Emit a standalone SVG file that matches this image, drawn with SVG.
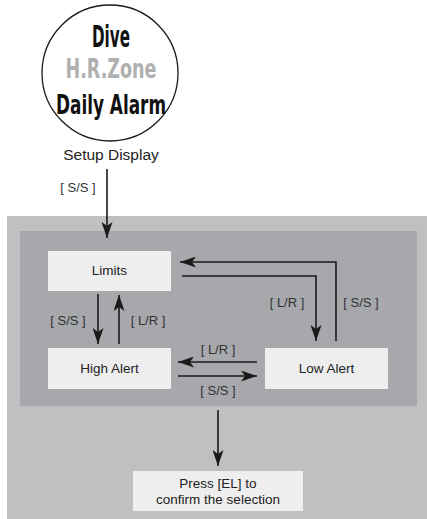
<svg xmlns="http://www.w3.org/2000/svg" width="427" height="519" viewBox="0 0 427 519">
<style>
.lbl{font-family:"Liberation Sans",Arial,sans-serif;font-size:13px;fill:#333;text-anchor:middle}
.nt{font-family:"Liberation Sans",Arial,sans-serif;font-size:13.5px;fill:#222;text-anchor:middle}
.box{fill:#eeeeee}
.ln{fill:none;stroke:#1a1a1a;stroke-width:1.6}
.dig{font-family:"DejaVu Sans Condensed","DejaVu Sans",sans-serif;font-weight:bold;text-anchor:middle}
</style>
<defs>
<marker id="ah" markerUnits="userSpaceOnUse" markerWidth="16" markerHeight="11" refX="16" refY="5.5" orient="auto">
<path d="M0,0 L16,5.5 L0,11 L4,5.5 z" fill="#1a1a1a"/>
</marker>
</defs>
<rect width="427" height="519" fill="#ffffff"/>
<g id="display">
<circle cx="110" cy="73" r="68" fill="#ffffff" stroke="#1a1a1a" stroke-width="1.3"/>
<text class="dig" x="111" y="47" font-size="30" fill="#111" textLength="38" lengthAdjust="spacingAndGlyphs">Dive</text>
<text class="dig" x="111" y="78" font-size="27" fill="#b0b0b0" textLength="91" lengthAdjust="spacingAndGlyphs">H.R.Zone</text>
<text class="dig" x="111" y="114" font-size="27" fill="#111" textLength="110" lengthAdjust="spacingAndGlyphs">Daily Alarm</text>
<text class="nt" x="111" y="160" font-size="15.5" style="font-size:15.5px">Setup Display</text>
</g>
<g id="panel">
<rect x="7" y="216" width="420" height="303" fill="#bfc0c2"/>
<rect x="20" y="231" width="397" height="175" fill="#a6a8ab"/>
</g>
<g id="limits">
<rect class="box" x="48" y="251" width="123" height="40"/>
<text class="nt" x="109.5" y="275">Limits</text>
</g>
<g id="high-alert">
<rect class="box" x="48" y="348" width="123" height="41"/>
<text class="nt" x="109.5" y="373">High Alert</text>
</g>
<g id="low-alert">
<rect class="box" x="265" y="348" width="123" height="41"/>
<text class="nt" x="326.5" y="373">Low Alert</text>
</g>
<g id="confirm">
<rect class="box" x="133" y="471" width="170" height="40"/>
<text class="nt" x="218" y="488">Press [EL] to</text>
<text class="nt" x="218" y="504">confirm the selection</text>
</g>
<g id="connectors">
<path class="ln" d="M107,169 V238" marker-end="url(#ah)"/>
<path class="ln" d="M98,294 V344" marker-end="url(#ah)"/>
<path class="ln" d="M119,344 V295" marker-end="url(#ah)"/>
<path class="ln" d="M182,276 H316 V341" marker-end="url(#ah)"/>
<path class="ln" d="M336,341 V262 H180" marker-end="url(#ah)"/>
<path class="ln" d="M257,362 H178" marker-end="url(#ah)"/>
<path class="ln" d="M178,376 H257" marker-end="url(#ah)"/>
<path class="ln" d="M218,410 V466" marker-end="url(#ah)"/>
<text class="lbl" x="78" y="192">[ S/S ]</text>
<text class="lbl" x="68" y="325">[ S/S ]</text>
<text class="lbl" x="148" y="325">[ L/R ]</text>
<text class="lbl" x="287" y="307">[ L/R ]</text>
<text class="lbl" x="361" y="307">[ S/S ]</text>
<text class="lbl" x="218" y="354">[ L/R ]</text>
<text class="lbl" x="218" y="395">[ S/S ]</text>
</g>
</svg>
